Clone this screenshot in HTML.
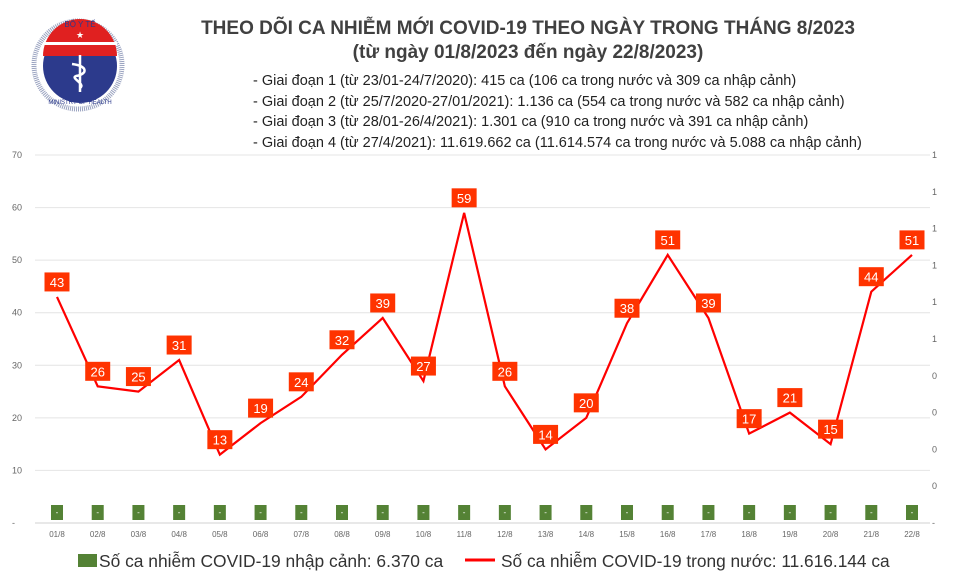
<!DOCTYPE html>
<html><head><meta charset="utf-8"><style>
body{margin:0;background:#fff;}
svg text{font-family:"Liberation Sans",sans-serif;}
</style></head><body>
<svg width="960" height="576" viewBox="0 0 960 576" xmlns="http://www.w3.org/2000/svg">
<rect width="960" height="576" fill="#fff"/>
<g>
<circle cx="78" cy="65" r="44" fill="none" stroke="#9aa3c0" stroke-width="5" stroke-dasharray="1 1"/>
<circle cx="80" cy="66" r="37" fill="#2c3a8c"/>
<path d="M43,56 A37,37 0 0 1 117,56 Z" fill="#e02020"/>
<rect x="43" y="42" width="74" height="3" fill="#fff"/>
<text x="80" y="38" font-size="9" fill="#fff" text-anchor="middle">★</text>
<text x="80" y="27" font-size="8" fill="#2c3a8c" text-anchor="middle">BỘ Y TẾ</text>
<path d="M80,55 L80,92 M72,64 C88,66 88,74 76,76 C70,78 86,84 80,88" stroke="#fff" stroke-width="2.5" fill="none"/>
<text x="80" y="104" font-size="6" fill="#2c3a8c" text-anchor="middle">MINISTRY OF HEALTH</text>
</g>
<text x="528" y="34" font-size="19" font-weight="bold" fill="#404040" text-anchor="middle">THEO DÕI CA NHIỄM MỚI COVID-19 THEO NGÀY TRONG THÁNG 8/2023</text>
<text x="528" y="58" font-size="19" font-weight="bold" fill="#404040" text-anchor="middle">(từ ngày 01/8/2023 đến ngày 22/8/2023)</text>
<g font-size="14.5" fill="#222">
<text x="253" y="85">- Giai đoạn 1 (từ 23/01-24/7/2020): 415 ca (106 ca trong nước và 309 ca nhập cảnh)</text>
<text x="253" y="106">- Giai đoạn 2 (từ 25/7/2020-27/01/2021): 1.136 ca (554 ca trong nước và 582 ca nhập cảnh)</text>
<text x="253" y="126">- Giai đoạn 3 (từ 28/01-26/4/2021): 1.301 ca (910 ca trong nước và 391 ca nhập cảnh)</text>
<text x="253" y="147">- Giai đoạn 4 (từ 27/4/2021): 11.619.662 ca (11.614.574 ca trong nước và 5.088 ca nhập cảnh)</text>
</g>
<g id="plot"></g>
<g>
<rect x="78" y="554" width="19" height="13" fill="#548235"/>
<text x="99" y="567" font-size="17.4" fill="#333">Số ca nhiễm COVID-19 nhập cảnh: 6.370 ca</text>
<line x1="465" y1="560" x2="495" y2="560" stroke="#f00" stroke-width="3"/>
<text x="501" y="567" font-size="17.3" fill="#333">Số ca nhiễm COVID-19 trong nước: 11.616.144 ca</text>
</g>
</svg>
<script>
const categories=["01/8","02/8","03/8","04/8","05/8","06/8","07/8","08/8","09/8","10/8","11/8","12/8","13/8","14/8","15/8","16/8","17/8","18/8","19/8","20/8","21/8","22/8"];
const domestic=[43,26,25,31,13,19,24,32,39,27,59,26,14,20,38,51,39,17,21,15,44,51];
const imported=[0,0,0,0,0,0,0,0,0,0,0,0,0,0,0,0,0,0,0,0,0,0];
const leftTicks=[0,10,20,30,40,50,60,70];
const rightTicks=["-","0","0","0","0","1","1","1","1","1","1"];
const NS="http://www.w3.org/2000/svg";
const g=document.getElementById('plot');
const x=i=>57+i*(912-57)/(categories.length-1);
const y=v=>523-v*(523-155)/70;
function el(t,a,txt){const e=document.createElementNS(NS,t);for(const k in a)e.setAttribute(k,a[k]);if(txt!==undefined)e.textContent=txt;g.appendChild(e);return e;}
leftTicks.forEach(v=>{
 const l=el('line',{x1:35,x2:930,y1:y(v),y2:y(v),stroke:v===0?'#d0d0d0':'#e4e4e4','stroke-width':1});
 
 
 const t=el('text',{x:12,y:y(v)+3,'font-size':9,fill:'#666'},v===0?'-':String(v));
 
 
});
rightTicks.forEach((s,i)=>{
 const t=el('text',{x:932,y:523-i*(523-155)/10+3,'font-size':9,fill:'#666'},s);
 
 
});
categories.forEach((c,i)=>{
 const t=el('text',{x:x(i),y:537,'font-size':8,fill:'#666','text-anchor':'middle'},c);
 
 
 const b=el('rect',{x:x(i)-6,y:505-imported[i],width:12,height:15+imported[i],fill:'#548235'});
 
 
 const bt=el('text',{x:x(i),y:515,'font-size':8,fill:'#fff','text-anchor':'middle'},'-');
 
 
});
const line=el('polyline',{points:domestic.map((v,i)=>x(i)+','+y(v)).join(' '),fill:'none',stroke:'#f00','stroke-width':2.2,'stroke-linejoin':'miter'});


domestic.forEach((v,i)=>{
 const cy=y(v)-15;
 const r=el('rect',{x:x(i)-12.5,y:cy-9.5,width:25,height:19,fill:'#ff3300'});
 
 
 const t=el('text',{x:x(i),y:cy+5,'font-size':13,fill:'#fff','text-anchor':'middle'},String(v));
 
 
});
</script>
</body></html>
